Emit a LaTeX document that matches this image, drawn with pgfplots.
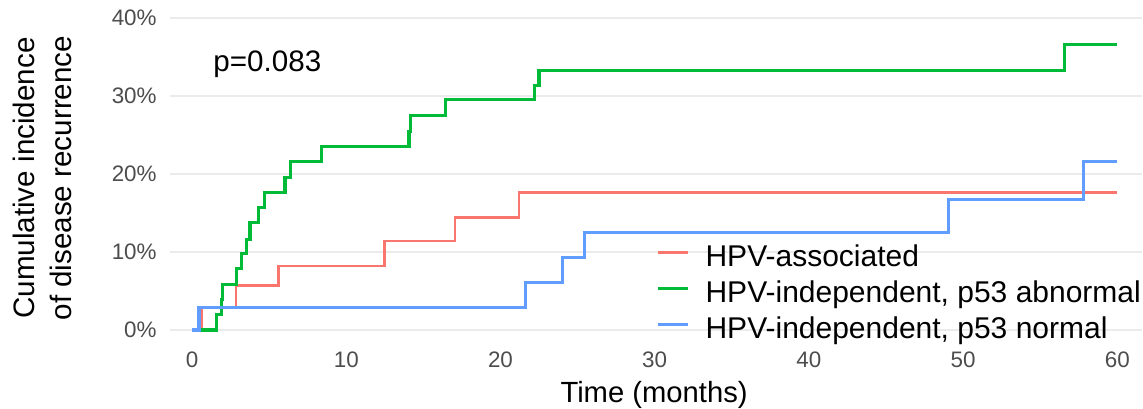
\documentclass[border=0pt]{standalone}
\usepackage{pgfplots}
\pgfplotsset{compat=1.18}
\usepackage{fontspec}
\setmainfont{Liberation Sans}
\definecolor{cred}{HTML}{F8766D}
\definecolor{cgreen}{HTML}{00BA38}
\definecolor{cblue}{HTML}{619CFF}
\definecolor{gridc}{HTML}{EBEBEB}
\definecolor{tickc}{HTML}{4D4D4D}
\begin{document}
\begin{tikzpicture}
\path[use as bounding box] (-85pt,-31.2pt) rectangle (486.5pt,172.8pt);
\begin{axis}[
  at={(0,0)}, anchor=south west,
  scale only axis, width=486pt, height=171.6pt,
  xmin=-1.43, xmax=61.6, ymin=-2, ymax=42,
  axis line style={draw=none}, major tick length=0pt,
  xtick={0,10,20,30,40,50,60}, xticklabels={0,10,20,30,40,50,60},
  ytick={0,10,20,30,40}, yticklabels={0\%,10\%,20\%,30\%,40\%},
  ymajorgrids, major grid style={gridc, line width=0.75pt},
  tick label style={font=\fontsize{11.2}{13}\selectfont, text=tickc, inner sep=0pt},
  xticklabel style={anchor=north, yshift=-2.7pt},
  yticklabel style={anchor=east, xshift=-6.5pt},
  xlabel={Time (months)},
  xlabel style={font=\fontsize{14.6}{18}\selectfont, at={(axis description cs:0.498,-0.1672)}, anchor=base, inner sep=0pt},
  ylabel={Cumulative incidence\\of disease recurrence},
  ylabel style={font=\fontsize{14.8}{18.5}\selectfont, align=center, at={(axis description cs:-0.1317,0.488)}, anchor=center, inner sep=0pt},
  legend cell align=left,
  legend image code/.code={\draw[#1, line width=1.1pt] (0pt,0pt) -- (15pt,0pt);},
  legend style={at={(axis description cs:0.501,0.325)}, anchor=north west, draw=none, fill=none,
    inner sep=0pt, row sep=0pt, column sep=8pt, font=\fontsize{15}{18}\selectfont,
    nodes={inner sep=0pt, text height=15.85pt, text depth=2.15pt}},
]
\addplot[const plot, cred, line width=1.35pt] coordinates {
 (0,0) (0.6,2.86) (2.85,5.7) (5.6,8.2) (12.5,11.4) (17.05,14.4) (21.2,17.6) (60,17.6)};
\addlegendentry{HPV-associated}
\addplot[const plot, cgreen, line width=1.55pt] coordinates {
 (0,0) (1.6,2.0) (1.93,3.9) (1.96,5.8) (2.9,7.9) (3.22,9.8) (3.55,11.6) (3.76,13.8) (4.3,15.7)
 (4.67,17.6) (6.03,19.6) (6.4,21.6) (8.41,23.5) (14.07,25.4) (14.15,27.5) (16.45,29.5)
 (22.18,31.3) (22.5,33.3) (56.55,36.6) (60,36.6)};
\addlegendentry{HPV-independent, p53 abnormal}
\addplot[const plot, cblue, line width=1.55pt] coordinates {
 (0,0) (0.45,2.86) (21.6,6.06) (24.0,9.3) (25.45,12.5) (49.05,16.75) (57.8,21.6) (60,21.6)};
\addlegendentry{HPV-independent, p53 normal}
\node[anchor=base west, inner sep=0pt, font=\fontsize{14.8}{18}\selectfont] at (axis cs:1.36,33.1) {p=0.083};
\end{axis}
\end{tikzpicture}
\end{document}
